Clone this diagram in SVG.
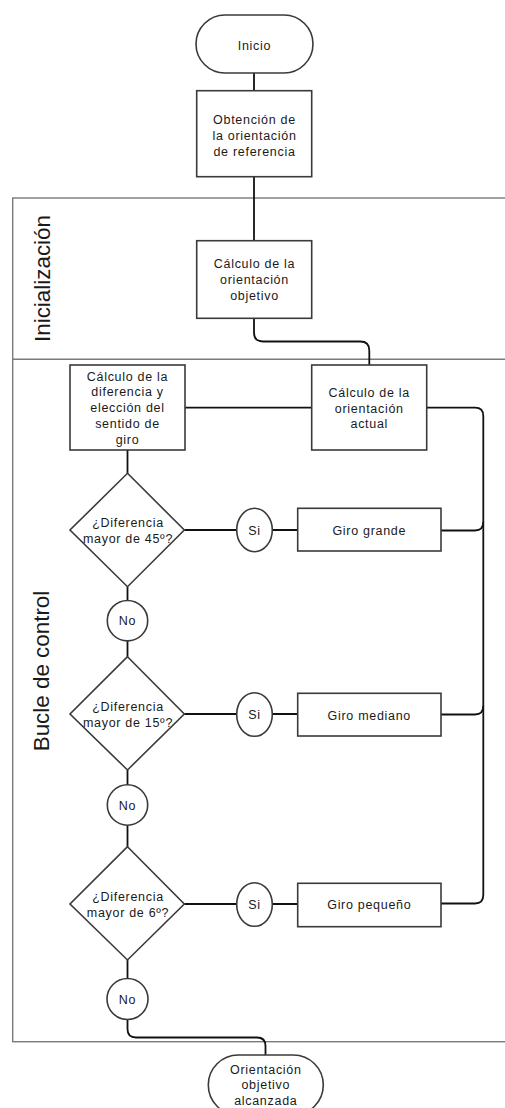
<svg xmlns="http://www.w3.org/2000/svg" width="505" height="1108" viewBox="0 0 505 1108">
<style>
.shape{fill:#ffffff;stroke:#3a3a3a;stroke-width:1.6}
.pool{fill:none;stroke:#7a7a7a;stroke-width:1.4}
.conn{fill:none;stroke:#111111;stroke-width:1.8}
.t{font-family:"Liberation Sans",Arial,sans-serif;font-size:12.5px;letter-spacing:0.7px;fill:#1a1a1a;text-anchor:middle}
.lane{font-family:"Liberation Sans",Arial,sans-serif;font-size:22.4px;fill:#1a1a1a;text-anchor:middle}
</style>
<rect width="505" height="1108" fill="#ffffff"/>
<g id="pool">
<rect class="pool" x="12.7" y="198" width="510" height="843.7"/>
<line class="pool" x1="12.7" y1="359.3" x2="505" y2="359.3"/>
<text class="lane" transform="translate(49.5,278.5) rotate(-90)">Inicialización</text>
<text class="lane" transform="translate(48.5,671) rotate(-90)">Bucle de control</text>
</g>
<g id="connectors">
<path class="conn" d="M254 73 V90.7"/>
<path class="conn" d="M254 176.7 V240.7"/>
<path class="conn" d="M254 318.3 V332.5 Q254 341.5 263 341.5 H360.3 Q369.3 341.5 369.3 350.5 V365"/>
<path class="conn" d="M185 407.7 H311.7"/>
<path class="conn" d="M426.7 407.7 H475 Q483.3 407.7 483.3 416 V895 Q483.3 903.5 475 903.5 H441"/>
<path class="conn" d="M441 530.5 H475 Q483.3 530.5 483.3 522"/>
<path class="conn" d="M441 714.5 H475 Q483.3 714.5 483.3 706"/>
<path class="conn" d="M127.5 450 V473.3"/>
<path class="conn" d="M184.3 530 H236.7 M272.3 530 H297.7"/>
<path class="conn" d="M127.5 586.7 V600.5 M127.5 641 V656.7"/>
<path class="conn" d="M184.3 714 H236.7 M272.3 714 H297.7"/>
<path class="conn" d="M127.5 770 V785 M127.5 825 V846.7"/>
<path class="conn" d="M184.3 904 H236.7 M272.3 904 H297.7"/>
<path class="conn" d="M127.5 960 V978.5"/>
<path class="conn" d="M127.5 1019.5 V1029 Q127.5 1037.5 136 1037.5 H257 Q265.5 1037.5 265.5 1046 V1055"/>
</g>
<g id="inicio">
<rect class="shape" x="196" y="15" width="117" height="58" rx="29" ry="29"/>
<text class="t" x="254.5" y="49.5">Inicio</text>
</g>
<g id="obtencion">
<rect class="shape" x="196.7" y="90.7" width="115" height="86"/>
<text class="t" x="254.5" y="123.5">Obtención de</text>
<text class="t" x="254.5" y="139.5">la orientación</text>
<text class="t" x="254.5" y="155.5">de referencia</text>
</g>
<g id="calculo-objetivo">
<rect class="shape" x="196.7" y="240.7" width="115" height="77.6"/>
<text class="t" x="254.5" y="267.5">Cálculo de la</text>
<text class="t" x="254.5" y="283.5">orientación</text>
<text class="t" x="254.5" y="299.5">objetivo</text>
</g>
<g id="calculo-diferencia">
<rect class="shape" x="70" y="365" width="115" height="85"/>
<text class="t" x="127.5" y="380.5">Cálculo de la</text>
<text class="t" x="127.5" y="396.3">diferencia y</text>
<text class="t" x="127.5" y="412">elección del</text>
<text class="t" x="127.5" y="428">sentido de</text>
<text class="t" x="127.5" y="443.7">giro</text>
</g>
<g id="calculo-actual">
<rect class="shape" x="311.7" y="365" width="115" height="85"/>
<text class="t" x="369.3" y="397.3">Cálculo de la</text>
<text class="t" x="369.3" y="412.7">orientación</text>
<text class="t" x="369.3" y="428.3">actual</text>
</g>
<g id="decision-45">
<polygon class="shape" points="127.5,473.3 184.3,530 127.5,586.7 70,530"/>
<text class="t" x="128" y="527">¿Diferencia</text>
<text class="t" x="128" y="542.5">mayor de 45º?</text>
</g>
<g id="si-45">
<ellipse class="shape" cx="254.5" cy="530" rx="17.8" ry="21.7"/>
<text class="t" x="254.5" y="534.5">Si</text>
</g>
<g id="giro-grande">
<rect class="shape" x="297.7" y="508.3" width="143.3" height="42.7"/>
<text class="t" x="369.3" y="535">Giro grande</text>
</g>
<g id="no-45">
<circle class="shape" cx="127.5" cy="620.7" r="20.2"/>
<text class="t" x="127.5" y="625">No</text>
</g>
<g id="decision-15">
<polygon class="shape" points="127.5,656.7 184.3,714 127.5,770 70,714"/>
<text class="t" x="128" y="711">¿Diferencia</text>
<text class="t" x="128" y="726.7">mayor de 15º?</text>
</g>
<g id="si-15">
<ellipse class="shape" cx="254.5" cy="714.5" rx="17.8" ry="21.8"/>
<text class="t" x="254.5" y="719">Si</text>
</g>
<g id="giro-mediano">
<rect class="shape" x="297.7" y="693.3" width="143.3" height="42.7"/>
<text class="t" x="369.3" y="719.5">Giro mediano</text>
</g>
<g id="no-15">
<circle class="shape" cx="127.5" cy="805" r="20.2"/>
<text class="t" x="127.5" y="809.5">No</text>
</g>
<g id="decision-6">
<polygon class="shape" points="127.5,846.7 184.3,904 127.5,960 70,904"/>
<text class="t" x="128" y="901">¿Diferencia</text>
<text class="t" x="128" y="916.7">mayor de 6º?</text>
</g>
<g id="si-6">
<ellipse class="shape" cx="254.5" cy="904.5" rx="17.8" ry="21.8"/>
<text class="t" x="254.5" y="909">Si</text>
</g>
<g id="giro-pequeno">
<rect class="shape" x="297.7" y="883.3" width="143.3" height="43.4"/>
<text class="t" x="369.3" y="909">Giro pequeño</text>
</g>
<g id="no-6">
<circle class="shape" cx="127.5" cy="999" r="20.5"/>
<text class="t" x="127.5" y="1003.5">No</text>
</g>
<g id="fin">
<rect class="shape" x="208.3" y="1055" width="115" height="60" rx="30" ry="30"/>
<text class="t" x="265.8" y="1073.5">Orientación</text>
<text class="t" x="265.8" y="1089">objetivo</text>
<text class="t" x="265.8" y="1104.5">alcanzada</text>
</g>
</svg>
